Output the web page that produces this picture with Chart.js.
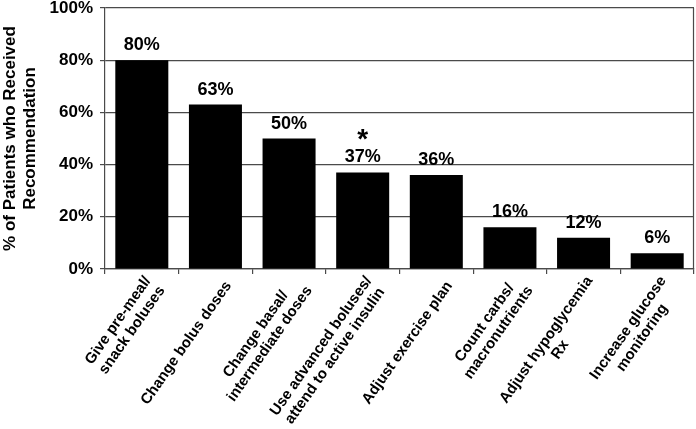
<!DOCTYPE html>
<html>
<head>
<meta charset="utf-8">
<script src="https://cdn.jsdelivr.net/npm/chart.js@4.4.1/dist/chart.umd.min.js"></script>
<style>
  html, body { margin: 0; padding: 0; background: #fff; }
  #wrap { width: 696px; height: 429px; position: relative; }
</style>
</head>
<body>
<div id="wrap"><canvas id="chart1"></canvas></div>
<script>
const categories = [
    ['Give pre-meal/', 'snack boluses'],
    ['Change bolus doses'],
    ['Change basal/', 'intermediate doses'],
    ['Use advanced boluses/', 'attend to active insulin'],
    ['Adjust exercise plan'],
    ['Count carbs/', 'macronutrients'],
    ['Adjust hypoglycemia', 'Rx'],
    ['Increase glucose', 'monitoring']
];
const percentReceived = [80, 63, 50, 37, 36, 16, 12, 6];
const significance = ['', '', '', '*', '', '', '', ''];
const yTickValues = [0, 20, 40, 60, 80, 100];

const FONT = '"Liberation Sans", Arial, sans-serif';
const gridColor = '#4a4a4a';

// value labels, asterisk, rotated category labels, right frame line
const labelPlugin = {
    id: 'labelPlugin',
    afterDraw(chart) {
        const ctx = chart.ctx;
        const area = chart.chartArea;
        const xScale = chart.scales.x;
        const meta = chart.getDatasetMeta(0);
        ctx.save();

        ctx.strokeStyle = gridColor;
        ctx.lineWidth = 1.2;
        ctx.beginPath();
        ctx.moveTo(area.right - 0.5, area.top);
        ctx.lineTo(area.right - 0.5, area.bottom);
        ctx.stroke();

        ctx.fillStyle = '#000';
        ctx.textAlign = 'center';
        ctx.textBaseline = 'alphabetic';
        meta.data.forEach((bar, i) => {
            ctx.font = 'bold 18px ' + FONT;
            ctx.fillText(percentReceived[i] + '%', bar.x, bar.y - 10);
            if (significance[i]) {
                ctx.font = 'bold 28px ' + FONT;
                ctx.fillText(significance[i], bar.x, bar.y - 24);
            }
        });

        // rotated labels, lines centred, block anchored at its right-middle
        ctx.font = 'bold 15px ' + FONT;
        ctx.textBaseline = 'middle';
        const lh = 17;
        categories.forEach((lines, i) => {
            const cx = xScale.getPixelForValue(i);
            const w = Math.max(...lines.map(l => ctx.measureText(l).width));
            ctx.save();
            ctx.translate(cx + 13, area.bottom + 14);
            ctx.rotate(-55 * Math.PI / 180);
            lines.forEach((l, j) => {
                ctx.fillText(l, -w / 2, (j - (lines.length - 1) / 2) * lh);
            });
            ctx.restore();
        });
        ctx.restore();
    }
};

Chart.defaults.color = '#000';

new Chart(document.getElementById('chart1').getContext('2d'), {
    type: 'bar',
    data: {
        labels: categories,
        datasets: [{
            label: '% of Patients who Received Recommendation',
            data: percentReceived,
            backgroundColor: '#000',
            borderWidth: 0,
            barPercentage: 0.72,
            categoryPercentage: 1
        }]
    },
    options: {
        responsive: true,
        maintainAspectRatio: false,
        animation: false,
        layout: { padding: { top: 8, right: 2, left: 0, bottom: 0 } },
        plugins: {
            legend: { display: false },
            tooltip: { enabled: false }
        },
        scales: {
            x: {
                grid: { display: true, drawOnChartArea: false, drawTicks: true, tickLength: 5, color: gridColor, lineWidth: 1.2, offset: true },
                border: { display: true, color: gridColor, width: 1.2 },
                ticks: { display: false },
                afterFit: scale => { scale.height = 160; scale.paddingLeft = 0; scale.paddingRight = 0; }
            },
            y: {
                min: 0,
                max: 100,
                afterBuildTicks: scale => { scale.ticks = yTickValues.map(v => ({ value: v })); },
                grid: { color: gridColor, lineWidth: 1.2, tickLength: 5 },
                border: { display: true, color: gridColor, width: 1.2 },
                ticks: {
                    font: { size: 17, weight: 'bold', family: FONT },
                    color: '#000',
                    padding: 7,
                    callback: v => v + '%'
                },
                title: {
                    display: true,
                    text: ['% of Patients who Received', 'Recommendation'],
                    font: { size: 17, weight: 'bold', family: FONT, lineHeight: 1.15 },
                    color: '#000',
                    padding: { top: 1, bottom: 0 }
                },
                afterFit: scale => { scale.width = 105; scale.paddingTop = 0; scale.paddingBottom = 0; }
            }
        }
    },
    plugins: [labelPlugin]
});
</script>
</body>
</html>
